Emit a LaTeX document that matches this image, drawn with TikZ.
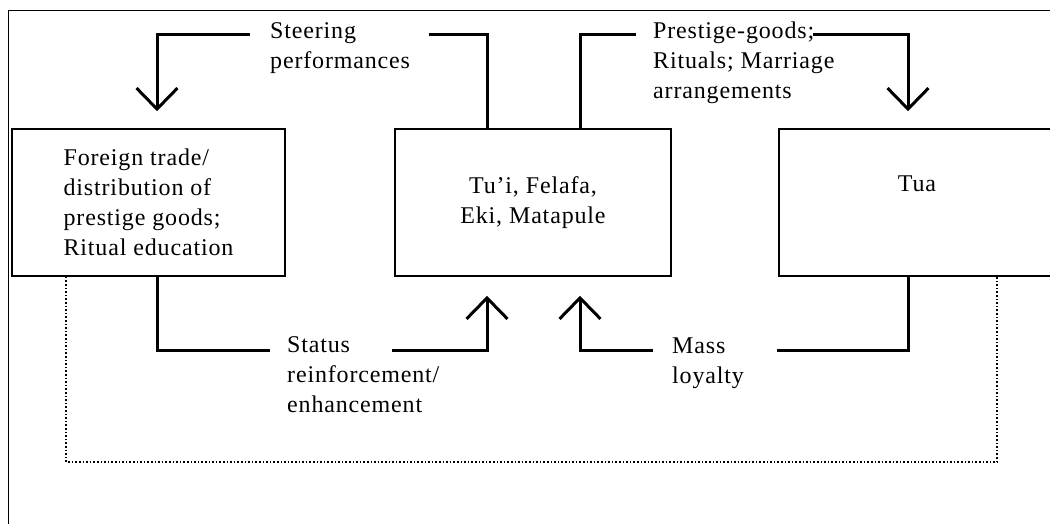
\documentclass[tikz,border=0pt]{standalone}
\usepackage{fontspec}
\newfontfamily\diafont[LetterSpace=3.5]{Liberation Serif}
\usetikzlibrary{arrows.meta,calc}
\begin{document}
\begin{tikzpicture}[x=1pt,y=-1pt,
  txt/.style={font=\diafont\fontsize{24}{30}\selectfont},
  box/.style={draw, line width=1.6pt, minimum height=147pt, inner sep=0pt, txt},
  lbl/.style={txt, align=left, inner sep=0pt, anchor=north west},
  conn/.style={line width=3pt},
  tip/.style={-{Straight Barb[length=21pt,width=41pt,line width=3pt]}},
  dotline/.style={line width=1.6pt, dotted},
  frame/.style={draw, double, double distance=0.8pt, line width=0.7pt}]
\useasboundingbox (0,0) rectangle (1050,524);
\clip (0,0) rectangle (1050,524);
\fill[white] (0,0) rectangle (1050,524);
\draw[frame] (9,540) |- (1070,11);
% boxes
\node[box, minimum width=273pt, align=left] (box1) at (148.5,202.5)
  {Foreign trade/\\distribution of\\prestige goods;\\Ritual education};
\node[box, minimum width=276pt, align=center] (box2) at (533,202.5)
  {Tu’i, Felafa,\\Eki, Matapule};
\node[box, minimum width=276pt, text height=17pt, text depth=38pt] (box3) at (917,202.5) {Tua};
% labels
\node[lbl] (steer) at (270,21) {\rule{0pt}{17pt}Steering\\performances};
\node[lbl] (prest) at (653,21) {\rule{0pt}{17pt}Prestige-goods;\\Rituals; Marriage\\arrangements};
\node[lbl] (status) at (287,335) {\rule{0pt}{17pt}Status\\reinforcement/\\enhancement};
\node[lbl] (mass) at (672,336) {\rule{0pt}{17pt}Mass\\loyalty};
% free ends of connectors beside the labels
\coordinate (sR) at (429,35);
\coordinate (sL) at (250,35);
\coordinate (pL) at (636,35);
\coordinate (pR) at (813,35);
\coordinate (tL) at (270,350);
\coordinate (tR) at (392,350);
\coordinate (mL) at (653,350);
\coordinate (mR) at (777,350);
\coordinate (dotbase) at (0,462);
% connectors
\draw[conn] ([xshift=-46pt]box2.north) |- (sR);
\draw[conn,tip,shorten >=17pt] (sL) -| ([xshift=8.5pt]box1.north);
\draw[conn] ([xshift=47pt]box2.north) |- (pL);
\draw[conn,tip,shorten >=17pt] (pR) -| ([xshift=-9pt]box3.north);
\draw[conn] ([xshift=8.5pt]box1.south) |- (tL);
\draw[conn,tip,shorten >=19pt] (tR) -| ([xshift=-46pt]box2.south);
\draw[conn] ([xshift=-9pt]box3.south) |- (mR);
\draw[conn,tip,shorten >=19pt] (mL) -| ([xshift=47pt]box2.south);
% dotted loop
\coordinate (dA) at ([xshift=55pt]box1.south west);
\coordinate (dB) at ([xshift=219pt]box3.south west);
\draw[dotline] (dA) -- (dA |- dotbase) -- (dB |- dotbase) -- (dB);
\end{tikzpicture}
\end{document}
